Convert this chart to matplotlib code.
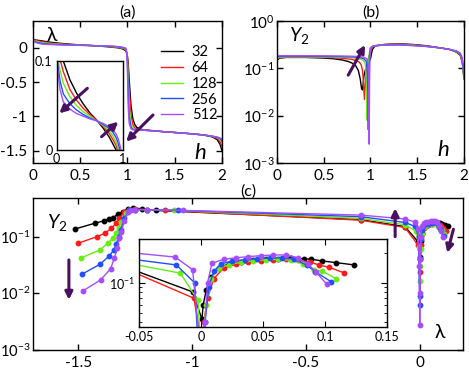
import matplotlib
matplotlib.use("Agg")
import matplotlib.pyplot as plt
import numpy as np

plt.rcParams["font.family"] = ["Lato", "DejaVu Sans"]
plt.rcParams["mathtext.fontset"] = "custom"
plt.rcParams["mathtext.rm"] = "Lato"
plt.rcParams["mathtext.it"] = "Lato:italic"

# ── data ─────────────────────────────────────────────────────────────
sizes = ["32", "64", "128", "256", "512"]
colors = ["#000000", "#ff1a1a", "#66ee11", "#1f4fff", "#a64dff"]
ARROW = "#4a1060"

# (a) lambda vs h
h_a = [0.0, 0.05, 0.1, 0.2, 0.3, 0.4, 0.5, 0.6, 0.7, 0.8, 0.85, 0.9, 0.93, 0.96,
       0.98, 0.99, 1.0, 1.01, 1.02, 1.04, 1.06, 1.08, 1.1, 1.15, 1.2, 1.4, 1.6,
       1.8, 1.9, 1.95, 1.98, 2.0]
lam_32 = [0.12, 0.11, 0.1, 0.079, 0.064, 0.052, 0.042, 0.034, 0.025, 0.014, 0.007, 0.0,
          -0.008, -0.022, -0.04, -0.06, -0.1, -0.22, -0.45, -0.85, -1.04, -1.12, -1.16,
          -1.19, -1.2, -1.225, -1.245, -1.27, -1.3, -1.34, -1.41, -1.5]
lam_64 = [0.115, 0.102, 0.088, 0.068, 0.056, 0.047, 0.04, 0.034, 0.027, 0.018, 0.012,
          0.005, -0.002, -0.012, -0.03, -0.05, -0.1, -0.3, -0.6, -0.98, -1.12, -1.17,
          -1.18, -1.195, -1.2, -1.225, -1.245, -1.27, -1.295, -1.32, -1.37, -1.44]
lam_128 = [0.11, 0.09, 0.075, 0.06, 0.05, 0.043, 0.038, 0.033, 0.028, 0.021, 0.016,
           0.009, 0.003, -0.006, -0.02, -0.04, -0.12, -0.45, -0.85, -1.12, -1.17, -1.19,
           -1.195, -1.2, -1.205, -1.225, -1.245, -1.27, -1.29, -1.31, -1.34, -1.38]
lam_256 = [0.105, 0.078, 0.063, 0.052, 0.045, 0.04, 0.036, 0.033, 0.029, 0.024, 0.02,
           0.014, 0.008, 0.0, -0.01, -0.03, -0.15, -0.65, -1.0, -1.16, -1.19, -1.195,
           -1.2, -1.2, -1.205, -1.225, -1.245, -1.27, -1.29, -1.305, -1.325, -1.36]
lam_512 = [0.1, 0.068, 0.054, 0.046, 0.041, 0.038, 0.035, 0.033, 0.03, 0.026, 0.023,
           0.018, 0.013, 0.005, -0.002, -0.02, -0.2, -0.85, -1.1, -1.18, -1.195, -1.2,
           -1.2, -1.2, -1.205, -1.225, -1.245, -1.27, -1.29, -1.3, -1.315, -1.335]

# (b) Y2 vs h
hb_32 = [0.0, 0.03, 0.1, 0.3, 0.5, 0.6, 0.7, 0.76, 0.8, 0.84, 0.87, 0.89, 0.905, 0.915,
         0.93, 0.95, 0.98, 1.0, 1.02, 1.05, 1.15, 1.3, 1.45, 1.6, 1.75, 1.85, 1.92, 1.96,
         1.98, 1.99, 2.0]
yb_32 = [0.15, 0.165, 0.17, 0.17, 0.165, 0.16, 0.15, 0.14, 0.13, 0.115, 0.09, 0.06, 0.037,
         0.035, 0.07, 0.1, 0.13, 0.16, 0.25, 0.3, 0.32, 0.33, 0.32, 0.3, 0.27, 0.25, 0.22,
         0.19, 0.14, 0.1, 0.06]
hb_64 = [0.0, 0.03, 0.1, 0.3, 0.5, 0.6, 0.7, 0.8, 0.85, 0.88, 0.9, 0.915, 0.925, 0.935,
         0.945, 0.96, 0.98, 1.0, 1.02, 1.05, 1.15, 1.3, 1.45, 1.6, 1.75, 1.85, 1.92, 1.96,
         1.98, 1.99, 2.0]
yb_64 = [0.16, 0.168, 0.172, 0.172, 0.17, 0.168, 0.163, 0.155, 0.145, 0.135, 0.12, 0.09,
         0.05, 0.022, 0.05, 0.12, 0.17, 0.22, 0.28, 0.3, 0.318, 0.325, 0.315, 0.295, 0.27,
         0.25, 0.225, 0.19, 0.14, 0.1, 0.06]
hb_128 = [0.0, 0.03, 0.1, 0.3, 0.5, 0.7, 0.8, 0.88, 0.92, 0.94, 0.95, 0.958, 0.965, 0.972,
          0.98, 0.99, 1.0, 1.02, 1.05, 1.15, 1.3, 1.45, 1.6, 1.75, 1.85, 1.92, 1.96, 1.98,
          1.99, 2.0]
yb_128 = [0.165, 0.172, 0.175, 0.175, 0.174, 0.172, 0.168, 0.16, 0.15, 0.13, 0.1, 0.04,
          0.008, 0.05, 0.15, 0.22, 0.27, 0.29, 0.3, 0.315, 0.32, 0.31, 0.29, 0.27, 0.25,
          0.225, 0.2, 0.15, 0.1, 0.06]
hb_256 = [0.0, 0.03, 0.1, 0.3, 0.5, 0.7, 0.8, 0.88, 0.93, 0.955, 0.965, 0.972, 0.977,
          0.982, 0.99, 1.0, 1.02, 1.05, 1.15, 1.3, 1.45, 1.6, 1.75, 1.85, 1.92, 1.96, 1.98,
          1.99, 2.0]
yb_256 = [0.175, 0.178, 0.18, 0.18, 0.179, 0.177, 0.175, 0.17, 0.16, 0.14, 0.1, 0.03,
          0.005, 0.05, 0.2, 0.27, 0.29, 0.3, 0.31, 0.315, 0.305, 0.29, 0.27, 0.25, 0.23,
          0.2, 0.16, 0.11, 0.065]
hb_512 = [0.0, 0.03, 0.1, 0.3, 0.5, 0.7, 0.8, 0.88, 0.93, 0.96, 0.975, 0.982, 0.986,
          0.99, 0.995, 1.0, 1.02, 1.05, 1.15, 1.3, 1.45, 1.6, 1.75, 1.85, 1.92, 1.96, 1.98,
          1.99, 2.0]
yb_512 = [0.19, 0.185, 0.185, 0.185, 0.184, 0.182, 0.18, 0.178, 0.172, 0.16, 0.12, 0.03,
          0.0025, 0.05, 0.2, 0.27, 0.29, 0.3, 0.31, 0.312, 0.302, 0.29, 0.27, 0.25, 0.235,
          0.21, 0.17, 0.12, 0.07]

# (c) Y2 vs lambda (data points)
lc_32 = [0.1234, 0.1089, 0.097, 0.0888, 0.0825, 0.072, 0.062, 0.052, 0.042, 0.032, 0.022,
         0.014, 0.008, 0.004, 0.0015, 0.0005, -0.007, -0.065, -0.26, -1.16, -1.22, -1.26,
         -1.282, -1.304, -1.326, -1.348, -1.367, -1.387, -1.428, -1.512]
yc_32 = [0.151, 0.159, 0.166, 0.172, 0.174, 0.176, 0.175, 0.172, 0.168, 0.163, 0.155, 0.14,
         0.115, 0.085, 0.06, 0.043, 0.081, 0.15, 0.2, 0.29, 0.31, 0.32, 0.31, 0.276, 0.248,
         0.216, 0.205, 0.19, 0.172, 0.137]
lc_64 = [0.1148, 0.103, 0.0946, 0.0879, 0.078, 0.068, 0.058, 0.048, 0.038, 0.028, 0.018,
         0.01, 0.005, 0.002, 0.0005, -0.006, -0.065, -0.26, -1.12, -1.2, -1.25, -1.275,
         -1.297, -1.319, -1.333, -1.355, -1.382, -1.417, -1.501]
yc_64 = [0.126, 0.143, 0.151, 0.161, 0.168, 0.172, 0.17, 0.166, 0.16, 0.153, 0.14, 0.11,
         0.07, 0.04, 0.024, 0.07, 0.145, 0.195, 0.29, 0.3, 0.305, 0.3, 0.276, 0.21, 0.172,
         0.14, 0.115, 0.1, 0.0765]
lc_128 = [0.1086, 0.0974, 0.0906, 0.082, 0.072, 0.062, 0.052, 0.042, 0.032, 0.022, 0.014,
          0.008, 0.004, 0.0015, 0.0, -0.0027, -0.017, -0.065, -0.26, -1.08, -1.2, -1.25,
          -1.275, -1.289, -1.311, -1.323, -1.333, -1.348, -1.37, -1.406, -1.49]
yc_128 = [0.11, 0.131, 0.135, 0.155, 0.168, 0.172, 0.17, 0.166, 0.16, 0.152, 0.14, 0.11,
          0.06, 0.03, 0.0165, 0.0665, 0.125, 0.162, 0.21, 0.29, 0.3, 0.3, 0.29, 0.258,
          0.184, 0.14, 0.115, 0.094, 0.076, 0.058, 0.0416]
lc_256 = [0.1048, 0.092, 0.085, 0.075, 0.065, 0.055, 0.045, 0.035, 0.025, 0.016, 0.01,
          0.006, 0.003, 0.001, 0.0, -0.0054, -0.0202, -0.065, -0.26, -1.06, -1.2, -1.25,
          -1.275, -1.297, -1.314, -1.323, -1.333, -1.344, -1.363, -1.404, -1.484]
yc_256 = [0.102, 0.129, 0.15, 0.172, 0.178, 0.177, 0.174, 0.17, 0.165, 0.155, 0.13, 0.09,
          0.04, 0.0088, 0.0062, 0.1, 0.151, 0.178, 0.225, 0.29, 0.3, 0.3, 0.29, 0.21,
          0.131, 0.1, 0.073, 0.058, 0.046, 0.0326, 0.0217]
lc_512 = [0.101, 0.0927, 0.086, 0.078, 0.068, 0.058, 0.048, 0.038, 0.028, 0.018, 0.0086,
          0.005, 0.003, 0.001, 0.0, -0.002, -0.007, -0.021, -0.065, -0.26, -1.04, -1.2,
          -1.25, -1.27, -1.282, -1.297, -1.311, -1.319, -1.329, -1.341, -1.358, -1.402,
          -1.48]
yc_512 = [0.097, 0.127, 0.155, 0.178, 0.19, 0.19, 0.187, 0.183, 0.178, 0.172, 0.157, 0.1,
          0.04, 0.01, 0.0028, 0.03, 0.135, 0.181, 0.205, 0.24, 0.29, 0.3, 0.3, 0.29, 0.276,
          0.19, 0.12, 0.094, 0.062, 0.042, 0.027, 0.0172, 0.011]

lam_a = [lam_32, lam_64, lam_128, lam_256, lam_512]
h_b = [hb_32, hb_64, hb_128, hb_256, hb_512]
y_b = [yb_32, yb_64, yb_128, yb_256, yb_512]
lam_c = [lc_32, lc_64, lc_128, lc_256, lc_512]
y_c = [yc_32, yc_64, yc_128, yc_256, yc_512]


def style(ax, size=11):
    ax.tick_params(direction="in", top=True, right=True, length=4, width=1,
                   labelsize=size, pad=4)
    for s in ax.spines.values():
        s.set_linewidth(1)


def arrow(ax, tail, head):
    ax.annotate("", xy=head, xytext=tail,
                arrowprops=dict(arrowstyle="-|>", color=ARROW, lw=2.2,
                                mutation_scale=11, shrinkA=0, shrinkB=0))


fig = plt.figure(figsize=(4.69, 3.72), dpi=100)

# ── (a) ──────────────────────────────────────────────────────────────
ax_a = fig.add_axes([0.0693, 0.5618, 0.404, 0.3817])
for lam, c, lab in zip(lam_a, colors, sizes):
    ax_a.plot(h_a, lam, color=c, lw=1, label=lab)
ax_a.set_xlim(0, 2)
ax_a.set_ylim(-1.68, 0.39)
ax_a.set_xticks([0, 0.5, 1, 1.5, 2], ["0", "0.5", "1", "1.5", "2"])
ax_a.set_yticks([0, -0.5, -1, -1.5], ["0", "-0.5", "-1", "-1.5"])
style(ax_a)
ax_a.set_title("(a)", fontsize=11.5, pad=3)
ax_a.text(0.1, 0.9, "λ", transform=ax_a.transAxes, fontsize=14, ha="center", va="center")
ax_a.text(0.885, 0.07, "h", transform=ax_a.transAxes, fontsize=16, style="italic",
          ha="center", va="center")
ax_a.legend(loc="upper left", bbox_to_anchor=(0.64, 0.88), frameon=False, fontsize=10.5,
            handlelength=1.5, handletextpad=0.6, labelspacing=0.12, borderpad=0)
arrow(ax_a, (1.272, -0.98), (0.988, -1.368))

ins_a = fig.add_axes([0.1209, 0.5968, 0.1407, 0.2392])
for lam, c in zip(lam_a, colors):
    ins_a.plot(h_a, lam, color=c, lw=1)
ins_a.set_xlim(0, 1)
ins_a.set_ylim(0, 0.1)
ins_a.set_xticks([0, 1], ["0", "1"])
ins_a.set_yticks([0, 0.1], ["0", "0.1"])
ins_a.tick_params(length=0, labelsize=9)
ins_a.tick_params(axis="x", pad=2)
ins_a.tick_params(axis="y", pad=3)
for s in ins_a.spines.values():
    s.set_linewidth(1)
arrow(ins_a, (0.464, 0.0693), (0.039, 0.0412))
arrow(ins_a, (0.68, 0.0149), (0.933, 0.0318))

# ── (b) ──────────────────────────────────────────────────────────────
ax_b = fig.add_axes([0.5906, 0.5618, 0.3987, 0.3817])
for hb, yb, c in zip(h_b, y_b, colors):
    ax_b.plot(hb, yb, color=c, lw=1)
ax_b.set_yscale("log")
ax_b.set_xlim(0, 2)
ax_b.set_ylim(1e-3, 1)
ax_b.set_xticks([0, 0.5, 1, 1.5, 2], ["0", "0.5", "1", "1.5", "2"])
ax_b.yaxis.set_minor_locator(matplotlib.ticker.NullLocator())
style(ax_b)
ax_b.tick_params(axis="y", pad=2)
ax_b.set_title("(b)", fontsize=11.5, pad=3)
ax_b.text(0.12, 0.9, "$Y_2$", transform=ax_b.transAxes, fontsize=14, ha="center",
          va="center")
ax_b.text(0.888, 0.09, "h", transform=ax_b.transAxes, fontsize=16, style="italic",
          ha="center", va="center")
arrow(ax_b, (0.762, 0.072), (0.942, 0.311))

# ── (c) ──────────────────────────────────────────────────────────────
ax_c = fig.add_axes([0.0697, 0.0591, 0.9175, 0.4086])
for lc, yc, c in zip(lam_c, y_c, colors):
    ax_c.plot(lc, yc, color=c, lw=1, marker="o", ms=3.2, mec=c, mfc=c)
ax_c.set_yscale("log")
ax_c.set_xlim(-1.7, 0.19)
ax_c.set_ylim(1e-3, 0.48)
ax_c.set_xticks([-1.5, -1, -0.5, 0], ["-1.5", "-1", "-0.5", "0"])
ax_c.yaxis.set_minor_locator(matplotlib.ticker.NullLocator())
style(ax_c)
ax_c.tick_params(axis="y", pad=1.5, labelsize=10.5)
ax_c.set_title("(c)", fontsize=11.5, pad=2)
ax_c.text(0.056, 0.836, "$Y_2$", transform=ax_c.transAxes, fontsize=14, ha="center",
          va="center")
ax_c.text(0.946, 0.112, "λ", transform=ax_c.transAxes, fontsize=14, ha="center",
          va="center")
arrow(ax_c, (-1.541, 0.0388), (-1.541, 0.0077))
arrow(ax_c, (-0.108, 0.1), (-0.108, 0.316))
arrow(ax_c, (0.148, 0.135), (0.121, 0.052))

ins_c = fig.add_axes([0.297, 0.121, 0.529, 0.2366])
for lc, yc, c in zip(lam_c, y_c, colors):
    ins_c.plot(lc, yc, color=c, lw=1, marker="o", ms=3.2, mec=c, mfc=c)
ins_c.set_yscale("log")
ins_c.set_xlim(-0.05, 0.15)
ins_c.set_ylim(0.036, 0.275)
ins_c.set_xticks([-0.05, 0, 0.05, 0.1, 0.15], ["-0.05", "0", "0.05", "0.1", "0.15"])
ins_c.tick_params(which="both", direction="in", top=True, right=True, labelsize=9, pad=3)
ins_c.tick_params(which="major", length=4)
ins_c.tick_params(which="minor", length=2.5, labelleft=False)
for s in ins_c.spines.values():
    s.set_linewidth(1)

fig.savefig("out.png", dpi=100)
